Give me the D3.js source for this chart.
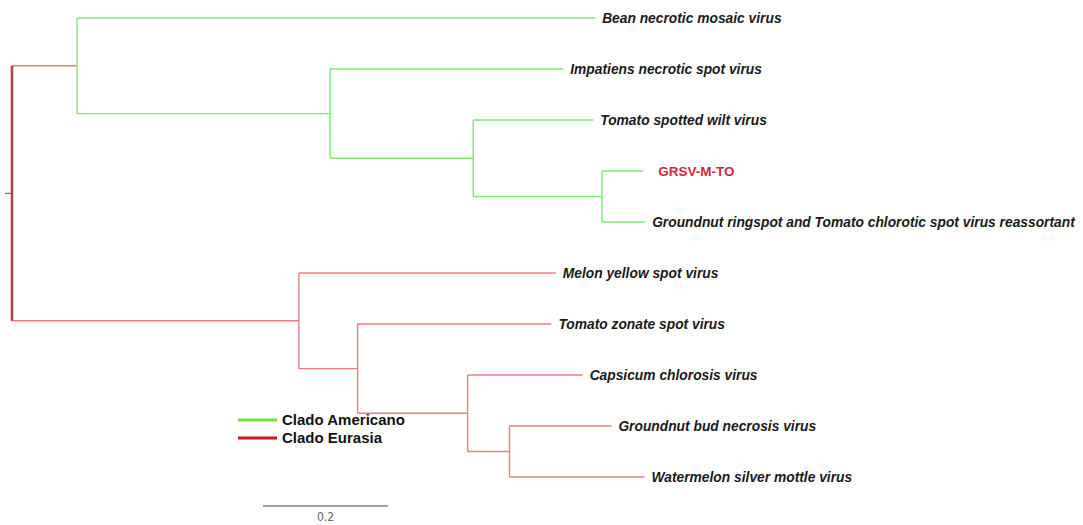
<!DOCTYPE html>
<html>
<head>
<meta charset="utf-8">
<script src="https://cdn.jsdelivr.net/npm/d3@7"></script>
<style>
  html, body { margin: 0; padding: 0; background: #fff; }
  svg { display: block; }
</style>
</head>
<body>
<svg id="chart" width="1083" height="525"></svg>
<script>
// ---- Data ----
const taxa = [
  "Bean necrotic mosaic virus",
  "Impatiens necrotic spot virus",
  "Tomato spotted wilt virus",
  "GRSV-M-TO",
  "Groundnut ringspot and Tomato chlorotic spot virus reassortant",
  "Melon yellow spot virus",
  "Tomato zonate spot virus",
  "Capsicum chlorosis virus",
  "Groundnut bud necrosis virus",
  "Watermelon silver mottle virus"
];
const internalNodes = ["root", "A", "B", "C", "D", "E", "F", "G", "H"];
const nodeIds = internalNodes.concat(taxa);
const parents = ["", "root", "A", "B", "C", "root", "E", "F", "G",
                 "A", "B", "C", "D", "D", "E", "F", "G", "H", "H"];
const branchLengths = [0, 0.104, 0.405, 0.229, 0.206, 0.459, 0.094, 0.176, 0.067,
                       0.829, 0.373, 0.192, 0.066, 0.069, 0.411, 0.310, 0.184, 0.163, 0.216];
const clades = ["Eurasia", "Americano", "Americano", "Americano", "Americano",
                "Eurasia", "Eurasia", "Eurasia", "Eurasia",
                "Americano", "Americano", "Americano", "Americano", "Americano",
                "Eurasia", "Eurasia", "Eurasia", "Eurasia", "Eurasia"];
const legendLabels = ["Clado Americano", "Clado Eurasia"];
const scaleBarValue = 0.2;
const scaleBarLabel = "0.2";
const highlightTaxon = "GRSV-M-TO";

// ---- Build tree ----
const table = nodeIds.map((id, i) => ({ id, parent: parents[i] || null, len: branchLengths[i], clade: clades[i] }));
const root = d3.stratify().id(d => d.id).parentId(d => d.parent)(table);

const svg = d3.select("#chart");
const x = d3.scaleLinear().domain([0, 1]).range([12, 637]);
const y = d3.scaleLinear().domain([0, taxa.length - 1]).range([18, 477]);

root.each(n => { n.dist = n.parent ? n.parent.dist + n.data.len : 0; });
root.eachAfter(n => {
  if (!n.children) n.yPos = y(taxa.indexOf(n.id));
  else {
    const ys = n.children.map(c => c.yPos);
    n.yPos = (d3.min(ys) + d3.max(ys)) / 2;
  }
});

const colors = { Americano: "#80e67a", Eurasia: "#ee7c84" };
const legendColors = { Americano: "#6ee04a", Eurasia: "#c8141e" };

const g = svg.append("g");

// horizontal branches
root.descendants().filter(n => n.parent).forEach(n => {
  g.append("line")
    .attr("x1", x(n.parent.dist)).attr("x2", x(n.dist))
    .attr("y1", n.yPos).attr("y2", n.yPos)
    .attr("stroke", colors[n.parent.data.clade])
    .attr("stroke-width", 1.4);
});
// vertical connectors
root.descendants().filter(n => n.children).forEach(n => {
  const ys = n.children.map(c => c.yPos);
  const sel = g.append("line")
    .attr("x1", x(n.dist)).attr("x2", x(n.dist))
    .attr("y1", d3.min(ys)).attr("y2", d3.max(ys))
    .attr("stroke", colors[n.data.clade])
    .attr("stroke-width", n === root ? 3 : 1.4);
  if (n === root) {
    g.append("line")
      .attr("x1", x(n.dist)).attr("x2", x(n.dist))
      .attr("y1", d3.min(ys)).attr("y2", d3.max(ys))
      .attr("stroke", "#5a1e22").attr("stroke-width", 1);
  }
});
// root tick
g.append("line")
  .attr("x1", x(0) - 7).attr("x2", x(0))
  .attr("y1", root.yPos).attr("y2", root.yPos)
  .attr("stroke", "#555").attr("stroke-width", 1);

// leaf labels
root.leaves().forEach(n => {
  const hl = n.id === highlightTaxon;
  g.append("text")
    .attr("x", x(n.dist) + (hl ? 15 : 7))
    .attr("y", n.yPos)
    .attr("dy", "0.36em")
    .attr("font-family", "Liberation Sans, Arial, sans-serif")
    .attr("font-size", hl ? 13.5 : 13.8)
    .attr("font-weight", "bold")
    .attr("font-style", hl ? "normal" : "italic")
    .attr("fill", hl ? "#d42a3a" : "#1a1a1a")
    .text(n.id);
});

// legend
const legendClades = ["Americano", "Eurasia"];
legendLabels.forEach((lab, i) => {
  const ly = 420 + i * 18;
  svg.append("line")
    .attr("x1", 238).attr("x2", 277).attr("y1", ly).attr("y2", ly)
    .attr("stroke", legendColors[legendClades[i]]).attr("stroke-width", 3);
  svg.append("text")
    .attr("x", 282).attr("y", ly).attr("dy", "0.36em")
    .attr("font-family", "Liberation Sans, Arial, sans-serif")
    .attr("font-size", 15).attr("font-weight", "bold")
    .attr("fill", "#111")
    .text(lab);
});

// scale bar
const sbX0 = 263;
const sbW = x(scaleBarValue) - x(0);
svg.append("line")
  .attr("x1", sbX0).attr("x2", sbX0 + sbW).attr("y1", 506).attr("y2", 506)
  .attr("stroke", "#808080").attr("stroke-width", 1.5);
svg.append("text")
  .attr("x", sbX0 + sbW / 2).attr("y", 521)
  .attr("text-anchor", "middle")
  .attr("font-family", "DejaVu Sans Condensed, sans-serif")
  .attr("font-size", 12).attr("fill", "#666")
  .text(scaleBarLabel);
</script>
</body>
</html>
